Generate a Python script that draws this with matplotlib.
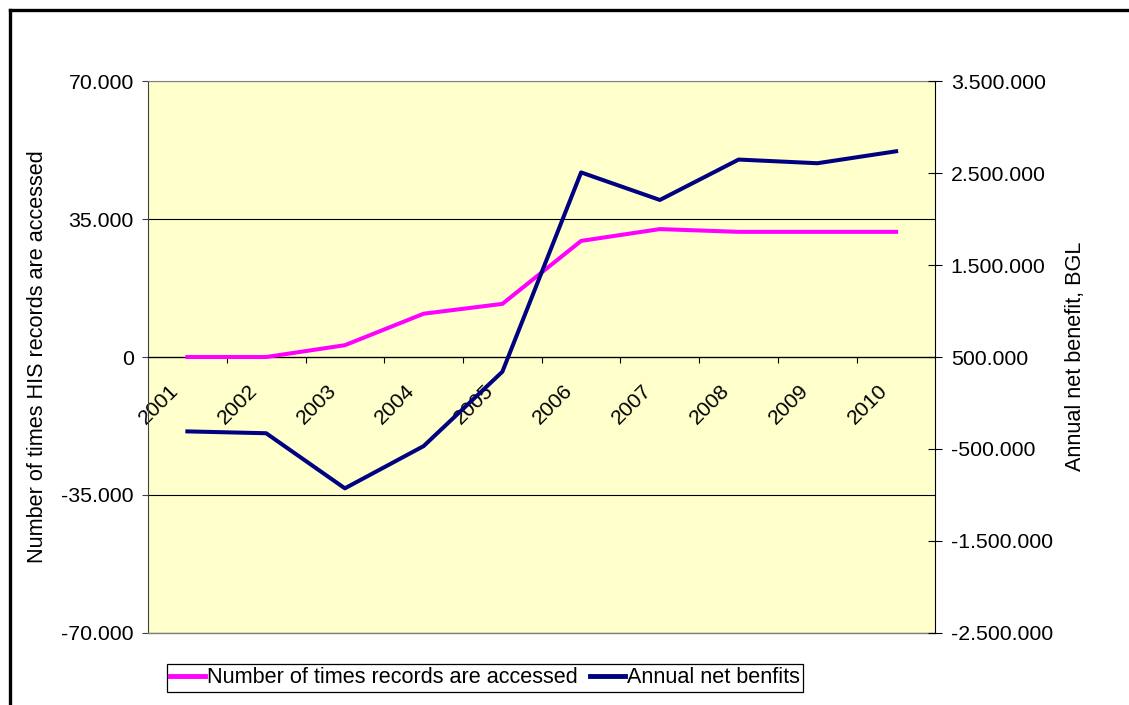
import matplotlib
matplotlib.use("Agg")
import matplotlib.pyplot as plt
from matplotlib.ticker import FixedLocator, FuncFormatter
from matplotlib.lines import Line2D
from matplotlib.transforms import ScaledTranslation

plt.rcParams['font.family'] = ['Liberation Sans', 'DejaVu Sans']

years = ['2001', '2002', '2003', '2004', '2005', '2006', '2007', '2008', '2009', '2010']
records_accessed = [0, 0, 3000, 11000, 13500, 29500, 32500, 31800, 31800, 31800]
net_benefits = [-310000, -330000, -930000, -470000, 340000, 2510000, 2210000, 2650000, 2610000, 2740000]

PINK = '#FF00FF'
NAVY = '#000080'
FS_TICK = 15.3
FS_TEXT = 15.6


def dotted_thousands(v, pos=None):
    return f"{int(round(v)):,}".replace(',', '.')


fig = plt.figure(figsize=(11.29, 7.05), dpi=100)
ax = fig.add_axes([0.1311, 0.1028, 0.6975, 0.7816])
ax.set_facecolor('#FFFFCC')

x = list(range(len(years)))
ax.plot(x, records_accessed, color=PINK, lw=2.9, zorder=3)
ax.set_xlim(-0.5, len(years) - 0.5)
ax.set_ylim(-70000, 70000)
ax.yaxis.set_major_locator(FixedLocator([-70000, -35000, 0, 35000, 70000]))
ax.yaxis.set_major_formatter(FuncFormatter(dotted_thousands))
ax.grid(axis='y', color='black', lw=0.8, zorder=1)
ax.set_axisbelow(True)
ax.tick_params(axis='y', direction='out', length=4.3, width=0.8, pad=6,
               labelsize=FS_TICK, color='#404040')

# category axis crosses at zero
ax.spines['bottom'].set_position(('data', 0))
ax.spines['bottom'].set_color('black')
ax.spines['bottom'].set_linewidth(0.9)
ax.spines['top'].set_color('#808080')
ax.spines['left'].set_color('#404040')
ax.spines['right'].set_visible(False)
ax.axhline(-70000, color='#808080', lw=1.0, clip_on=False, zorder=4)

ax.set_xticks(x)
ax.set_xticklabels(years, rotation=45, ha='right', va='top', fontsize=FS_TICK)
ax.set_xticks([i + 0.5 for i in range(len(years) - 1)], minor=True)
ax.tick_params(axis='x', which='major', length=0, pad=17)
ax.tick_params(axis='x', which='minor', direction='out', length=4.3, width=0.8)
shift = ScaledTranslation(-5 / 100, 0, fig.dpi_scale_trans)
for lbl in ax.get_xticklabels():
    lbl.set_transform(lbl.get_transform() + shift)

ax2 = ax.twinx()
ax2.plot(x, net_benefits, color=NAVY, lw=2.9, zorder=3)
ax2.set_ylim(-2500000, 3500000)
ax2.yaxis.set_major_locator(FixedLocator(range(-2500000, 3500001, 1000000)))
ax2.yaxis.set_major_formatter(FuncFormatter(dotted_thousands))
ax2.tick_params(axis='y', direction='inout', length=10, width=0.8, pad=6,
                labelsize=FS_TICK)
for side in ('top', 'bottom', 'left'):
    ax2.spines[side].set_visible(False)
ax2.spines['right'].set_color('black')

fig.text(0.0328, 0.4943, 'Number of times HIS records are accessed', rotation=90,
         ha='center', va='center', fontsize=FS_TEXT)
fig.text(0.953, 0.4943, 'Annual net benefit, BGL', rotation=90,
         ha='center', va='center', fontsize=FS_TEXT)

handles = [Line2D([], [], color=PINK, lw=3.5), Line2D([], [], color=NAVY, lw=3.5)]
leg = fig.legend(handles, ['Number of times records are accessed', 'Annual net benfits'],
                 loc='center', bbox_to_anchor=(0.4296, 0.0383), ncol=2, fontsize=FS_TEXT,
                 frameon=True, fancybox=False, framealpha=1, edgecolor='black',
                 handlelength=1.6, handletextpad=0.1, columnspacing=0.6,
                 borderpad=0.15, borderaxespad=0)
leg.get_frame().set_linewidth(0.9)

# outer chart border (top and left visible)
fig.add_artist(Line2D([10 / 1129, 1.0], [1 - 10 / 705, 1 - 10 / 705],
                      color='black', lw=2.4, transform=fig.transFigure))
fig.add_artist(Line2D([10 / 1129, 10 / 1129], [0.0, 1 - 10 / 705],
                      color='black', lw=2.4, transform=fig.transFigure))

fig.savefig('out.png', dpi=100)
